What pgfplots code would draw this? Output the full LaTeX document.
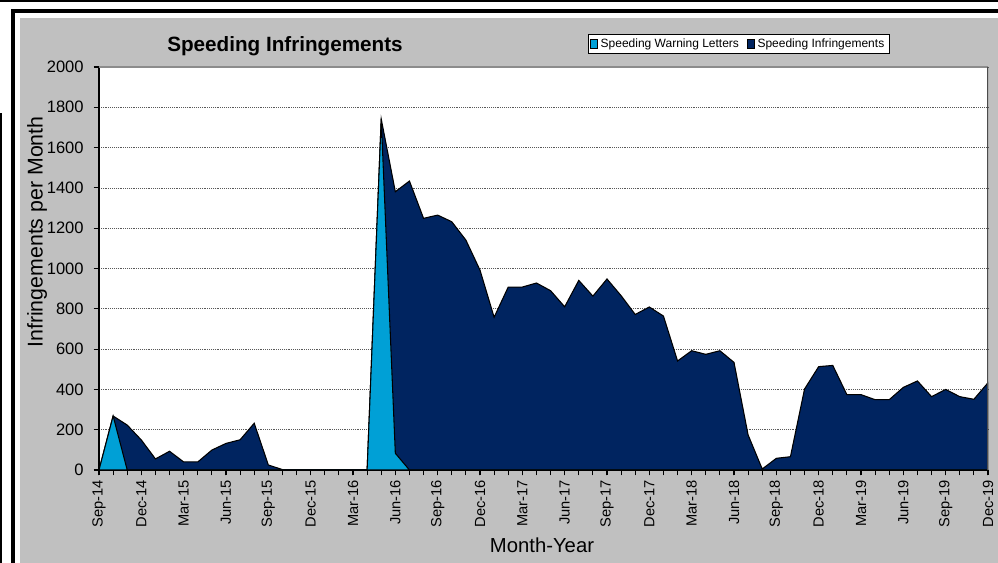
\documentclass[border=0pt]{standalone}
\usepackage{pgfplots}
\pgfplotsset{compat=1.18}
\usepackage{pgfplotstable}
\usepackage{fontspec}
\setmainfont{Liberation Sans}
\definecolor{chartgray}{RGB}{192,192,192}
\definecolor{lightblue}{RGB}{0,160,214}
\definecolor{navy}{RGB}{0,36,96}

\pgfplotstableread{
i letters infr
0 0 0
1 268 268
2 0 223
3 0 149
4 0 55
5 0 93
6 0 40
7 0 40
8 0 99
9 0 132
10 0 150
11 0 232
12 0 25
13 0 2
14 0 0
15 0 0
16 0 0
17 0 0
18 0 0
19 0 0
20 1742 1742
21 83 1381
22 0 1434
23 0 1249
24 0 1265
25 0 1232
26 0 1141
27 0 992
28 0 758
29 0 908
30 0 908
31 0 928
32 0 890
33 0 810
34 0 941
35 0 863
36 0 948
37 0 865
38 0 772
39 0 809
40 0 764
41 0 541
42 0 592
43 0 574
44 0 592
45 0 534
46 0 174
47 0 5
48 0 58
49 0 66
50 0 402
51 0 513
52 0 519
53 0 374
54 0 374
55 0 349
56 0 349
57 0 410
58 0 442
59 0 364
60 0 400
61 0 364
62 0 351
63 0 433
}\datatable

\begin{document}
\begin{tikzpicture}[x=0.75pt,y=0.75pt]
\path[use as bounding box] (0,0) rectangle (998,563);
\clip (0,0) rectangle (998,563);
% white page
\fill[white] (0,0) rectangle (998,563);
% top strip and left strip
\fill[black] (-5,560.5) rectangle (1005,570);
\fill[black] (-5,-5) rectangle (2.3,450);
% outer frame
\fill[black] (11,-10) rectangle (1010,554);
\fill[white] (15,-10) rectangle (1010,550);
\fill[chartgray] (20,-10) rectangle (1010,545);

\node[font=\bfseries\fontsize{15.5}{18}\selectfont] at (285,517) {Speeding Infringements};
\node[rotate=90, font=\fontsize{16}{19}\selectfont] at (37,331) {Infringements per Month};
\node[font=\fontsize{15.2}{18}\selectfont] at (542,18) {Month-Year};

\begin{axis}[
  at={(74.25pt,69.75pt)}, anchor=south west,
  scale only axis, width=666.75pt, height=302.25pt,
  xmin=0, xmax=63, ymin=0, ymax=2000,
  axis x line=bottom, axis y line=left,
  axis line style={-, black, line width=1pt},
  axis background/.style={fill=white},
  tick align=outside,
  major tick length=4pt, minor tick length=4pt,
  tick style={black, line width=0.8pt},
  xtick={0,3,...,63},
  minor xtick={0,1,...,63},
  xticklabels={Sep-14,Dec-14,Mar-15,Jun-15,Sep-15,Dec-15,Mar-16,Jun-16,Sep-16,Dec-16,Mar-17,Jun-17,Sep-17,Dec-17,Mar-18,Jun-18,Sep-18,Dec-18,Mar-19,Jun-19,Sep-19,Dec-19},
  xticklabel style={rotate=90, anchor=east, font=\fontsize{11}{12}\selectfont},
  ytick={0,200,...,2000},
  yticklabel style={font=\fontsize{12.4}{14}\selectfont, xshift=-4pt},
  /pgf/number format/assume math mode=true,
  /pgf/number format/1000 sep={},
  ymajorgrids,
  major grid style={densely dotted, black!65, line width=0.5pt},
  legend columns=2,
  legend style={at={(0.7194,1.0571)}, anchor=center, draw=black, fill=white,
    font=\fontsize{9}{10}\selectfont, inner xsep=1.5pt, inner ysep=1pt,
    /tikz/every even column/.append style={column sep=4pt}},
  legend image code/.code={\draw[#1, draw=black, line width=0.4pt] (0pt,-3pt) rectangle (5.5pt,3.5pt);},
]
\addlegendimage{fill=lightblue, draw=black}
\addlegendentry{Speeding Warning Letters}
\addlegendimage{fill=navy, draw=black}
\addlegendentry{Speeding Infringements}
\addplot[fill=navy, draw=black, line width=0.8pt, forget plot] table[x=i, y=infr] {\datatable} \closedcycle;
\addplot[fill=lightblue, draw=black, line width=0.8pt, forget plot] table[x=i, y=letters] {\datatable} \closedcycle;
\draw[black!45, line width=0.8pt] (rel axis cs:0,1) -- (rel axis cs:1,1);
\draw[black!70, line width=1.2pt] (rel axis cs:1,1) -- (rel axis cs:1,0);
\end{axis}
\end{tikzpicture}
\end{document}
